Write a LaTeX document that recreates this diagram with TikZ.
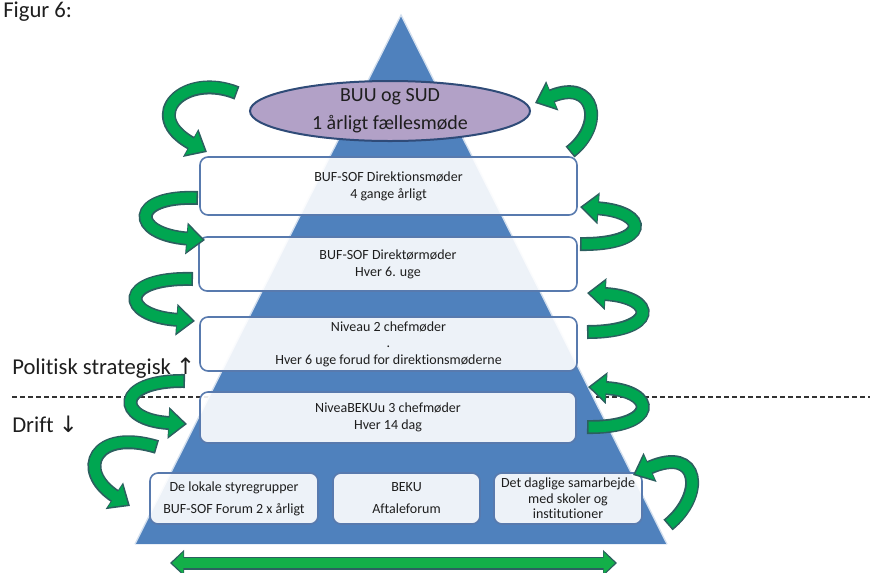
\documentclass[tikz,border=0pt]{standalone}
\usepackage{fontspec}
\setmainfont{Carlito}[Ligatures=NoCommon]
\newfontfamily\pilfont{DejaVu Sans}
\usetikzlibrary{shapes.geometric,arrows.meta}

\definecolor{pyrblue}{RGB}{79,129,189}
\definecolor{boxline}{RGB}{88,122,174}
\definecolor{lavender}{RGB}{178,161,199}
\definecolor{ovalline}{RGB}{47,75,120}
\definecolor{loopgreen}{RGB}{0,166,81}
\definecolor{looprim}{RGB}{44,95,95}
\definecolor{txt}{RGB}{30,30,30}

\tikzset{
  meeting/.style={draw=boxline, line width=1.2pt, fill=white, fill opacity=0.9, text opacity=1,
    rounded corners=6pt, align=center, text=txt, inner sep=0pt,
    font=\fontsize{10.5}{12.75}\selectfont},
  oval/.style={ellipse, draw=ovalline, line width=1.5pt, fill=lavender, align=center, text=txt,
    minimum width=210pt, minimum height=45pt, inner xsep=0pt, inner ysep=-4pt,
    font=\fontsize{15}{21}\selectfont},
  side/.style={inner sep=0pt, text=txt, font=\fontsize{17}{20}\selectfont},
  divider/.style={line width=0.9pt, dash pattern=on 3.75pt off 2.25pt, draw=black!80},
  loopedge/.style={draw=looprim, line width=10.5pt, -{Triangle[width=23pt,length=14pt]}},
  loopbody/.style={draw=loopgreen, line width=8pt, shorten <=1.2pt, shorten >=1.9pt,
    -{Triangle[width=19pt,length=11.5pt]}}
}
\newcommand{\greenloop}[1]{%
  \draw[loopedge] #1;
  \draw[loopbody] #1;
}

\begin{document}
\begin{tikzpicture}[x=0.75pt,y=-0.75pt]
  \useasboundingbox (0,0) rectangle (870,572);
  \node[side, anchor=base west] (fig) at (3,17) {Figur 6:};
  % skillelinje bag pyramiden
  \draw[divider] (12,397) -- (870,397);
  % pyramiden
  \fill[pyrblue] (401,15) -- (667,544) -- (135,544) -- cycle;
  \draw[white!75!pyrblue, line width=1pt] (135,544) -- (401,15) -- (667,544);

  \node[oval] (buu) at (390,111) {BUU og SUD\\1 årligt fællesmøde};
  \node[meeting, minimum width=282.75pt, minimum height=43.5pt] (dir) at (388.5,186)
    {BUF-SOF Direktionsmøder\\4 gange årligt};
  \node[meeting, minimum width=283.5pt, minimum height=40.5pt] (dirm) at (388,264)
    {BUF-SOF Direktørmøder\\Hver 6. uge};
  \node[meeting, minimum width=282.75pt, minimum height=40.5pt,
    font=\fontsize{10.5}{12.4}\selectfont] (niv2) at (388.5,344)
    {Niveau 2 chefmøder\\.\\Hver 6 uge forud for direktionsmøderne};
  \node[meeting, minimum width=282pt, minimum height=38.25pt] (niv3) at (388,417.5)
    {NiveaBEKUu 3 chefmøder\\Hver 14 dag};
  \node[meeting, minimum width=126pt, minimum height=38.25pt,
    font=\fontsize{10.5}{16.5}\selectfont] (styre) at (234,498.5)
    {De lokale styregrupper\\BUF-SOF Forum 2 x årligt};
  \node[meeting, minimum width=110.25pt, minimum height=38.25pt,
    font=\fontsize{10.5}{16.5}\selectfont] (beku) at (406.5,498.5)
    {BEKU\\Aftaleforum};
  \node[meeting, minimum width=111pt, minimum height=38.25pt,
    font=\fontsize{10.5}{11.5}\selectfont] (daglig) at (568,498.5)
    {Det daglige samarbejde\\med skoler og\\institutioner};

  \node[side, anchor=base west] (pol) at (12,374) {Politisk strategisk {\pilfont ↑}};
  \node[side, anchor=base west] (drift) at (12,432) {Drift {\pilfont ↓}};

  % venstre pile
  \coordinate (v1a) at (237,93);  \coordinate (v1b) at (207,152);
  \coordinate (v2a) at (198,198); \coordinate (v2b) at (205,240);
  \coordinate (v3a) at (193,279); \coordinate (v3b) at (195,321);
  \coordinate (v4a) at (185,381); \coordinate (v4b) at (187,424);
  \coordinate (v5a) at (157,447); \coordinate (v5b) at (130,506);
  \greenloop{(v1a) .. controls (185,72) and (140,115) .. (v1b)}
  \greenloop{(v2a) .. controls (130,195) and (130,234) .. (v2b)}
  \greenloop{(v3a) .. controls (118,277) and (120,316) .. (v3b)}
  \greenloop{(v4a) .. controls (115,380) and (115,420) .. (v4b)}
  \greenloop{(v5a) .. controls (95,428) and (75,470) .. (v5b)}

  % hoejre pile
  \coordinate (h1a) at (570,152); \coordinate (h1b) at (535,103);
  \coordinate (h2a) at (580,244); \coordinate (h2b) at (580,207);
  \coordinate (h3a) at (587,332); \coordinate (h3b) at (587,293);
  \coordinate (h4a) at (587,427); \coordinate (h4b) at (588,387);
  \coordinate (h5a) at (668,525); \coordinate (h5b) at (633,475);
  \greenloop{(h1a) .. controls (605,125) and (595,78) .. (h1b)}
  \greenloop{(h2a) .. controls (650,245) and (650,212) .. (h2b)}
  \greenloop{(h3a) .. controls (658,332) and (658,297) .. (h3b)}
  \greenloop{(h4a) .. controls (658,428) and (658,391) .. (h4b)}
  \greenloop{(h5a) .. controls (705,495) and (700,445) .. (h5b)}

  % bund pil
  \coordinate (bl) at (170,563); \coordinate (br) at (617,563);
  \draw[draw=looprim, line width=9.75pt, {Triangle[width=19pt,length=10.5pt]}-{Triangle[width=19pt,length=10.5pt]}] (bl) -- (br);
  \draw[draw=loopgreen!90!lime, line width=7.5pt, shorten <=1.6pt, shorten >=1.6pt,
    {Triangle[width=16pt,length=8.5pt]}-{Triangle[width=16pt,length=8.5pt]}] (bl) -- (br);
\end{tikzpicture}
\end{document}
